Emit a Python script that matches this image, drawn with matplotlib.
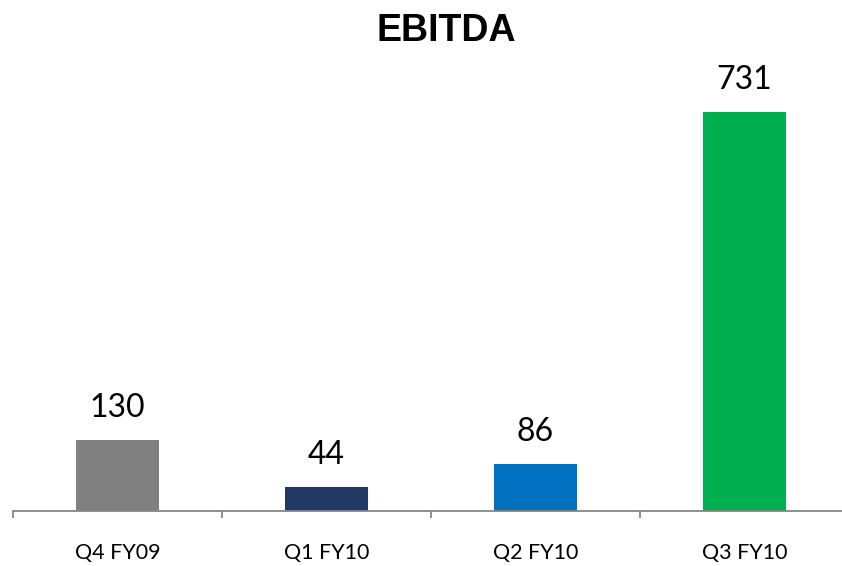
# EBITDA BAR CHART

import matplotlib.pyplot as plt
from matplotlib.ticker import FixedLocator, NullFormatter, FixedFormatter

quarters = ['Q4 FY09', 'Q1 FY10', 'Q2 FY10', 'Q3 FY10']
ebitda = [130, 44, 86, 731]
colors = ['#808080', '#1F3864', '#0070C0', '#00B050']

fig = plt.figure(figsize=(8.42, 5.66), dpi=100)
# axes: baseline at y=511px, left at x=13px, one category = 209px
ax = fig.add_axes([13/842, (566-511)/566, 836/842, 451/566])

pos = [i + 0.5 for i in range(len(quarters))]
bars = ax.bar(pos, ebitda, width=0.4, color=colors)

for b, v in zip(bars, ebitda):
    ax.annotate('%d' % v, (b.get_x() + b.get_width()/2, v),
                xytext=(0, 12), textcoords='offset points',
                ha='center', va='bottom', fontsize=23, family='Lato')

ax.set_xlim(0, 4)
ax.set_ylim(0, 826)

# tick marks at category boundaries, labels at centers
ax.xaxis.set_major_locator(FixedLocator([0, 1, 2, 3, 4]))
ax.xaxis.set_major_formatter(NullFormatter())
ax.xaxis.set_minor_locator(FixedLocator(pos))
ax.xaxis.set_minor_formatter(FixedFormatter(quarters))
ax.tick_params(axis='x', which='major', length=5, width=1.3, color='#868686', direction='out')
ax.tick_params(axis='x', which='minor', length=0, pad=23, labelsize=15.5)
for lab in ax.get_xticklabels(minor=True):
    lab.set_family('Lato')

ax.set_yticks([])
for s in ['top', 'right', 'left']:
    ax.spines[s].set_visible(False)
ax.spines['bottom'].set_color('#868686')
ax.spines['bottom'].set_linewidth(1.3)

fig.text(446/842, 1 - 31/566, 'EBITDA', ha='center', va='center',
         fontsize=27, fontweight='bold', family='Liberation Sans')

plt.savefig('out.png', dpi=100)
